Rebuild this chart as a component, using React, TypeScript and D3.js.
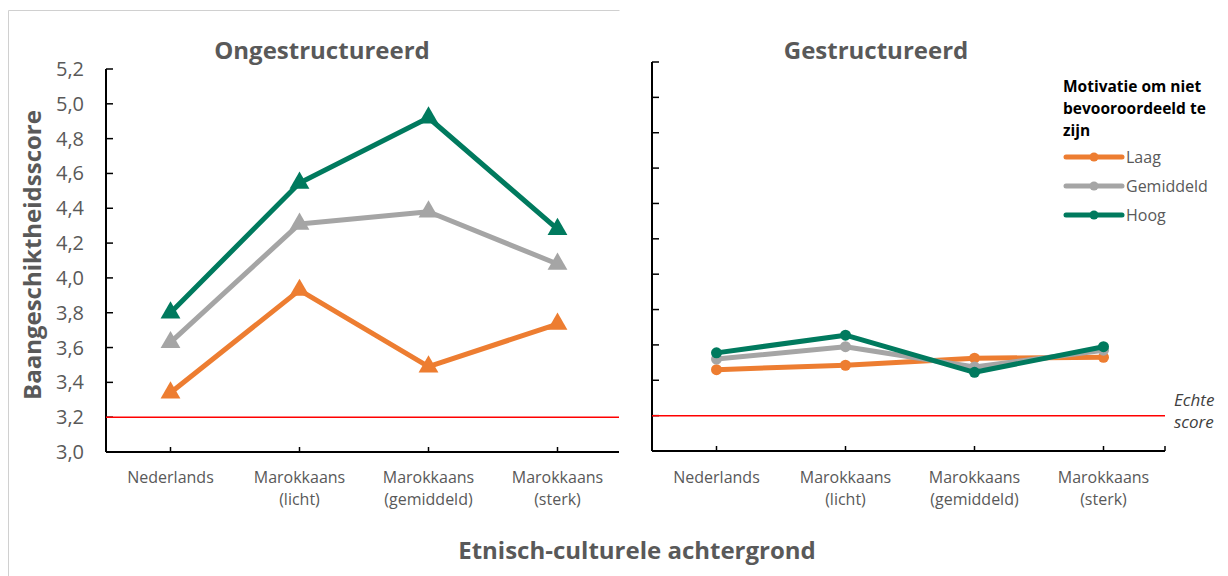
import React, { useEffect, useRef } from 'react'
import * as d3 from 'd3'

const categories = [
  ['Nederlands'],
  ['Marokkaans', '(licht)'],
  ['Marokkaans', '(gemiddeld)'],
  ['Marokkaans', '(sterk)']
]
const yTicks = [3.0, 3.2, 3.4, 3.6, 3.8, 4.0, 4.2, 4.4, 4.6, 4.8, 5.0, 5.2]
const seriesNames = ['Laag', 'Gemiddeld', 'Hoog']
const colors = ['#ed7d31', '#a5a5a5', '#007a5e']

// Ongestructureerd
const ongLaag = [3.34, 3.93, 3.49, 3.735]
const ongGemiddeld = [3.63, 4.31, 4.38, 4.08]
const ongHoog = [3.8, 4.545, 4.92, 4.28]

// Gestructureerd
const gesLaag = [3.46, 3.485, 3.525, 3.53]
const gesGemiddeld = [3.52, 3.59, 3.475, 3.57]
const gesHoog = [3.555, 3.655, 3.445, 3.59]

const echteScore = 3.2

const FONT = "'Open Sans', 'Noto Sans', sans-serif"
const GREY = '#595959'

const PANELS = [
  { title: 'Ongestructureerd', titleX: 322, x0: 106, x1: 619, top: 69, bottom: 452, labels: true, marker: 'triangle', series: [ongLaag, ongGemiddeld, ongHoog] },
  { title: 'Gestructureerd', titleX: 876, x0: 652, x1: 1165, top: 62, bottom: 451, labels: false, marker: 'circle', series: [gesLaag, gesGemiddeld, gesHoog] }
]

const App = () => {
  const ref = useRef<SVGSVGElement>(null)

  useEffect(() => {
    draw()
  }, [])

  const draw = () => {
    const svg = d3.select(ref.current)
    svg.selectAll('*').remove()

    // chart area frame: only top and left edge visible
    svg.append('path')
      .attr('d', 'M8.5,576 V10.5 H619.5')
      .attr('fill', 'none').attr('stroke', '#d0d0d0').attr('stroke-width', 1)

    PANELS.forEach(p => {
      const g = svg.append('g')
      const x = d3.scalePoint<number>()
        .domain(d3.range(categories.length))
        .range([p.x0, p.x0 + 516])
        .padding(0.5)
      const y = d3.scaleLinear().domain([3.0, 5.2]).range([p.bottom, p.top])

      // title
      g.append('text')
        .attr('x', p.titleX).attr('y', 59)
        .attr('text-anchor', 'middle')
        .attr('font-family', FONT).attr('font-weight', 700)
        .attr('font-size', 24).attr('fill', GREY)
        .text(p.title)

      // y axis
      g.append('line')
        .attr('x1', p.x0).attr('x2', p.x0)
        .attr('y1', p.top).attr('y2', p.bottom)
        .attr('stroke', '#000').attr('stroke-width', 2)
      yTicks.forEach(t => {
        g.append('line')
          .attr('x1', p.x0).attr('x2', p.x0 + 7)
          .attr('y1', y(t)).attr('y2', y(t))
          .attr('stroke', '#000').attr('stroke-width', 1.5)
        if (p.labels) {
          g.append('text')
            .attr('x', 84).attr('y', y(t))
            .attr('dy', '0.35em')
            .attr('text-anchor', 'end')
            .attr('font-family', FONT).attr('font-size', 20)
            .attr('fill', GREY)
            .text(d3.format('.1f')(t).replace('.', ','))
        }
      })

      // x axis
      g.append('line')
        .attr('x1', p.x0).attr('x2', p.x1)
        .attr('y1', p.bottom).attr('y2', p.bottom)
        .attr('stroke', '#000').attr('stroke-width', 2)
      const tickXs = categories.map((c, i) => x(i) as number).concat(p.labels ? [] : [p.x1])
      tickXs.forEach(tx => {
        g.append('line')
          .attr('x1', tx).attr('x2', tx)
          .attr('y1', p.bottom).attr('y2', p.bottom - 5)
          .attr('stroke', '#000').attr('stroke-width', 1.5)
      })
      categories.forEach((c, i) => {
        const t = g.append('text')
          .attr('text-anchor', 'middle')
          .attr('font-family', FONT).attr('font-size', 16)
          .attr('fill', GREY)
        c.forEach((line, j) => {
          t.append('tspan')
            .attr('x', x(i) as number)
            .attr('y', 483 + j * 22)
            .text(line)
        })
      })

      // echte score line
      g.append('line')
        .attr('x1', p.x0).attr('x2', p.x1)
        .attr('y1', y(echteScore)).attr('y2', y(echteScore))
        .attr('stroke', '#ff0000').attr('stroke-width', 1.5)

      // series
      const line = d3.line<number>()
        .x((d, i) => x(i) as number)
        .y(d => y(d))
      p.series.forEach((vals, s) => {
        g.append('path')
          .attr('d', line(vals))
          .attr('fill', 'none')
          .attr('stroke', colors[s])
          .attr('stroke-width', 5)
          .attr('stroke-linejoin', 'round')
        if (p.marker === 'triangle') {
          const tri = d3.symbol().type(d3.symbolTriangle).size(170)
          g.selectAll(null)
            .data(vals)
            .enter()
            .append('path')
            .attr('d', tri())
            .attr('transform', (d, i) => 'translate(' + x(i) + ',' + y(d) + ')')
            .attr('fill', colors[s])
        } else {
          g.selectAll(null)
            .data(vals)
            .enter()
            .append('circle')
            .attr('cx', (d, i) => x(i) as number)
            .attr('cy', d => y(d))
            .attr('r', 5.5)
            .attr('fill', colors[s])
        }
      })
    })

    // Echte score label
    const echte = svg.append('text')
      .attr('font-family', FONT).attr('font-style', 'italic')
      .attr('font-size', 17).attr('fill', '#404040')
    echte.append('tspan').attr('x', 1174).attr('y', 406).text('Echte')
    echte.append('tspan').attr('x', 1174).attr('y', 428).text('score')

    // y axis title
    svg.append('text')
      .attr('transform', 'translate(41,255) rotate(-90)')
      .attr('text-anchor', 'middle')
      .attr('font-family', FONT).attr('font-weight', 700)
      .attr('font-size', 24).attr('fill', GREY)
      .text('Baangeschiktheidsscore')

    // x axis title
    svg.append('text')
      .attr('x', 637).attr('y', 559)
      .attr('text-anchor', 'middle')
      .attr('font-family', FONT).attr('font-weight', 700)
      .attr('font-size', 24).attr('fill', GREY)
      .text('Etnisch-culturele achtergrond')

    // legend
    const lg = svg.append('g')
    const titleLines = ['Motivatie om niet', 'bevooroordeeld te', 'zijn']
    titleLines.forEach((l, i) => {
      lg.append('text')
        .attr('x', 1063).attr('y', 92 + i * 22)
        .attr('font-family', FONT).attr('font-weight', 700)
        .attr('font-size', 15.5).attr('fill', '#000')
        .text(l)
    })
    seriesNames.forEach((name, i) => {
      const ly = 157 + i * 29
      lg.append('line')
        .attr('x1', 1066).attr('x2', 1122)
        .attr('y1', ly).attr('y2', ly)
        .attr('stroke', colors[i]).attr('stroke-width', 5)
        .attr('stroke-linecap', 'round')
      lg.append('circle')
        .attr('cx', 1094).attr('cy', ly).attr('r', 4.5)
        .attr('fill', colors[i])
      lg.append('text')
        .attr('x', 1126).attr('y', ly)
        .attr('dy', '0.35em')
        .attr('font-family', FONT).attr('font-size', 16)
        .attr('fill', GREY)
        .text(name)
    })
  }

  return (
    <div style={{ position: 'absolute', left: 0, top: 0 }}>
      <svg ref={ref} width={1228} height={576} style={{ display: 'block', background: '#fff' }} />
    </div>
  )
}

export default App
